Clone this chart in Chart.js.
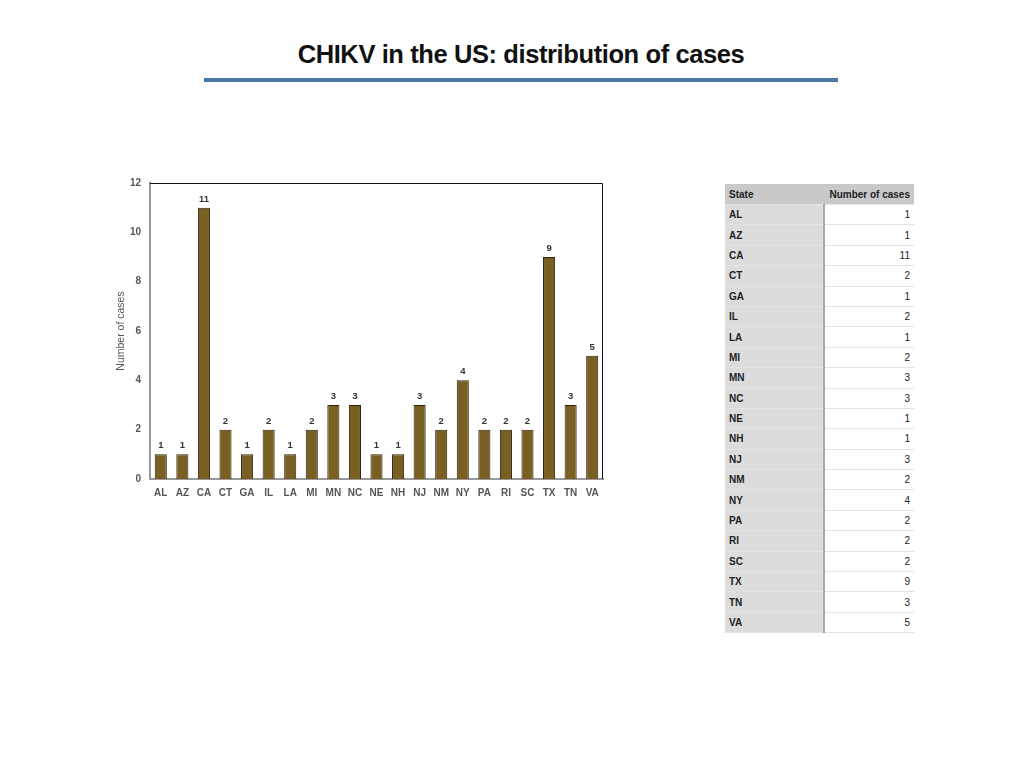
<!DOCTYPE html>
<html>
  <head>
    <title>CHIKV in the US</title>
    <style>
      body { margin: 0; width: 1024px; height: 768px; background: #fff; position: relative; font-family: "Liberation Sans", Arial, sans-serif; overflow: hidden; }
      h1 { position: absolute; left: 0; width: 1042px; top: 40px; margin: 0; text-align: center; font-size: 25.5px; font-weight: bold; color: #111; letter-spacing: -0.4px; }
      .rule { position: absolute; left: 204px; top: 78px; width: 634px; height: 4px; background: #4a78a6; }
      #wrap { position: absolute; left: 108px; top: 168px; width: 505px; height: 339px; }
      table { position: absolute; left: 725px; top: 184px; border-collapse: collapse; font-size: 10px; color: #222; }
      th, td { height: 19.4px; padding: 0 4px; border-bottom: 1px solid #e4e4e4; }
      th { background: #c9c9c9; font-weight: bold; text-align: left; height: 20px; }
      td.s { width: 90px; background: #dcdcdc; font-weight: bold; border-right: 2px solid #a8a8a8; }
      td.n { width: 81px; text-align: right; }
      th.n { text-align: right; }
    </style>
  </head>
  <body>
    <h1>CHIKV in the US: distribution of cases</h1>
    <div class="rule"></div>
    <div id="wrap"><canvas id="casesChart" width="505" height="339"></canvas></div>
    <table id="caseTable"></table>

    <script src="https://cdn.jsdelivr.net/npm/chart.js"></script>
    <script>
      const states = ["AL", "AZ", "CA", "CT", "GA", "IL", "LA", "MI", "MN", "NC", "NE",
        "NH", "NJ", "NM", "NY", "PA", "RI", "SC", "TX", "TN", "VA"];
      const cases = [1, 1, 11, 2, 1, 2, 1, 2, 3, 3, 1, 1, 3, 2, 4, 2, 2, 2, 9, 3, 5];
      const yTicks = [0, 2, 4, 6, 8, 10, 12];

      // table on the right
      const table = document.getElementById("caseTable");
      let rows = '<tr><th>State</th><th class="n">Number of cases</th></tr>';
      states.forEach((s, i) => {
        rows += `<tr><td class="s">${s}</td><td class="n">${cases[i]}</td></tr>`;
      });
      table.innerHTML = rows;

      // value labels over bars and the thin frame on top / right
      const barLabels = {
        id: "barLabels",
        afterDatasetsDraw(chart) {
          const ctx = chart.ctx;
          const area = chart.chartArea;
          ctx.save();
          ctx.strokeStyle = "#111";
          ctx.lineWidth = 1;
          ctx.beginPath();
          ctx.moveTo(area.left, area.top + 0.5);
          ctx.lineTo(area.right - 0.5, area.top + 0.5);
          ctx.lineTo(area.right - 0.5, area.bottom);
          ctx.stroke();
          ctx.font = "bold 9.5px 'Liberation Sans', Arial, sans-serif";
          ctx.fillStyle = "#333";
          ctx.textAlign = "center";
          ctx.textBaseline = "bottom";
          chart.getDatasetMeta(0).data.forEach((bar, i) => {
            ctx.fillText(cases[i], bar.x, bar.y - 4);
          });
          ctx.restore();
        },
      };

      const ctx = document.getElementById("casesChart").getContext("2d");
      new Chart(ctx, {
        type: "bar",
        data: {
          labels: states,
          datasets: [
            {
              label: "Number of cases",
              data: cases,
              backgroundColor: "#7a5f22",
              borderColor: "#2e220c",
              borderWidth: 1,
              borderSkipped: "bottom",
              categoryPercentage: 1,
              barPercentage: 0.56,
            },
          ],
        },
        options: {
          responsive: false,
          animation: false,
          layout: { padding: { top: 3, right: 10, left: 5 } },
          plugins: { legend: { display: false }, tooltip: { enabled: false } },
          scales: {
            x: {
              grid: { display: false, drawTicks: false },
              border: { display: true, color: "#999", width: 2 },
              ticks: {
                color: "#555",
                padding: 8,
                maxRotation: 0,
                autoSkip: false,
                font: { size: 10, weight: "bold", family: "'Liberation Sans', Arial, sans-serif" },
              },
            },
            y: {
              min: 0,
              max: 12,
              afterBuildTicks: (axis) => {
                axis.ticks = yTicks.map((v) => ({ value: v }));
              },
              afterFit: (axis) => {
                axis.width = 37;
              },
              grid: { display: false, drawTicks: false },
              border: { display: true, color: "#999", width: 2 },
              ticks: {
                color: "#555",
                padding: 9,
                font: { size: 10, weight: "bold", family: "'Liberation Sans', Arial, sans-serif" },
              },
              title: {
                display: true,
                text: "Number of cases",
                color: "#555",
                padding: 2,
                font: { size: 10.5, family: "'Liberation Sans', Arial, sans-serif" },
              },
            },
          },
        },
        plugins: [barLabels],
      });
    </script>
  </body>
</html>
